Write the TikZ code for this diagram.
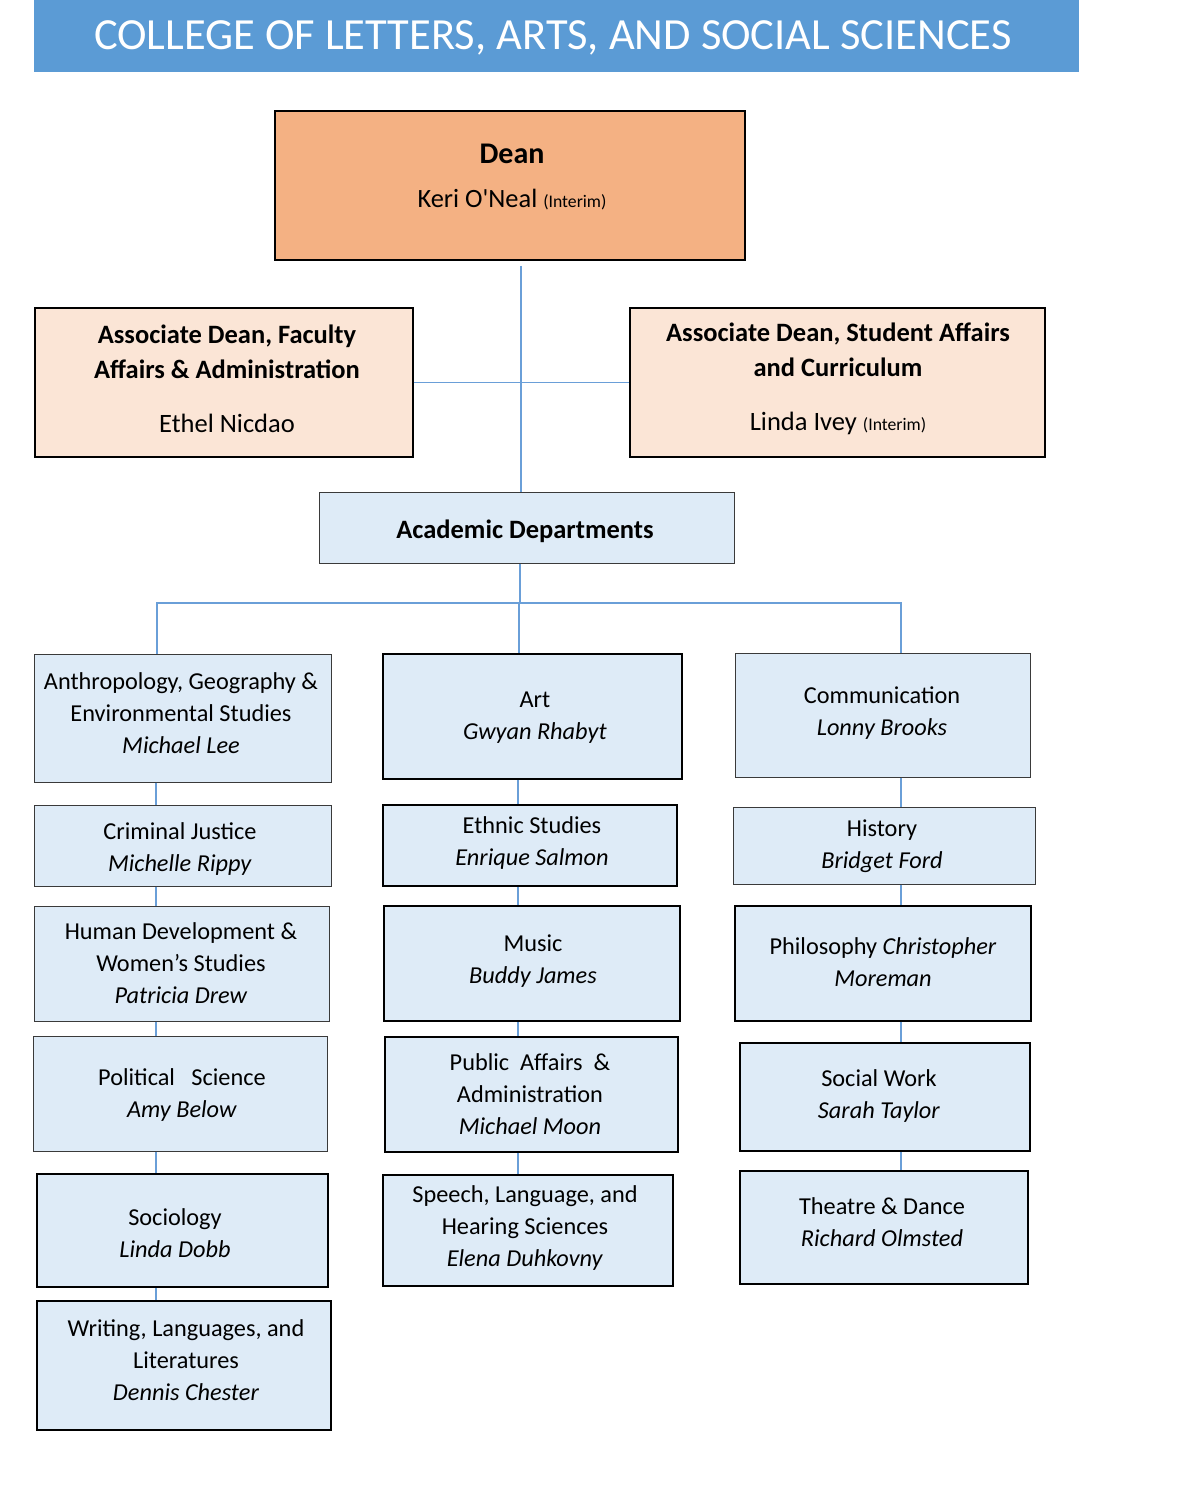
\documentclass[tikz,border=0pt]{standalone}
\usepackage{fontspec}
\setmainfont{Carlito}
\newfontfamily\rawfont{Carlito}[Ligatures=TeXOff]
\definecolor{titleblue}{HTML}{5B9BD5}
\definecolor{deanfill}{HTML}{F4B183}
\definecolor{assocfill}{HTML}{FBE5D6}
\definecolor{deptfill}{HTML}{DEEBF7}
\definecolor{connblue}{HTML}{6A9FD8}
\definecolor{thinborder}{HTML}{3A3A3A}
\begin{document}
\begin{tikzpicture}[x=1pt,y=-1pt,
  boxbase/.style={rectangle, inner sep=0pt},
  thinbox/.style={boxbase, draw=thinborder, line width=1pt},
  medbox/.style={boxbase, draw=black, line width=1.6pt},
  thickbox/.style={boxbase, draw=black, line width=2.6pt},
  dept/.style={fill=deptfill},
  txt/.style={inner sep=0pt, align=center, font=\fontsize{24.3}{32}\selectfont},
  bigtxt/.style={inner sep=0pt, align=center, font=\fontsize{26.5}{35}\selectfont},
  conn/.style={draw=connblue, line width=1.2pt},
  sz/.style 2 args={minimum width=#1, minimum height=#2}
]
\useasboundingbox (0,0) rectangle (1200,1486);
\fill[white] (0,0) rectangle (1200,1486);

% title
\node[boxbase, fill=titleblue, sz={1045pt}{72pt}] (title) at (556.5,36) {};
\node[inner sep=0pt, text=white, font=\fontsize{44.5}{46}\selectfont] (titletxt) at (553,38) {COLLEGE OF LETTERS, ARTS, AND SOCIAL SCIENCES};

% dean
\node[medbox, fill=deanfill, sz={470pt}{149pt}] (dean) at (510,185.5) {};
\node[inner sep=0pt, align=center, font=\fontsize{26.4}{44}\selectfont] (deantxt) at (512,177) {{\fontsize{30}{44}\selectfont\bfseries Dean}\\Keri O{\rawfont'}Neal {\fontsize{17.7}{20}\selectfont(Interim)}};

% associate deans
\node[medbox, line width=1.2pt, fill=assocfill, sz={378pt}{149pt}] (adl) at (224,382.5) {};
\node[bigtxt] (adltxt) at (227,378.5) {\bfseries Associate Dean, Faculty\\\bfseries Affairs \& Administration\\[19pt]Ethel Nicdao};
\node[medbox, line width=1.2pt, fill=assocfill, sz={415pt}{149pt}] (adr) at (837.5,382.5) {};
\node[bigtxt] (adrtxt) at (838,378.5) {\bfseries Associate Dean, Student Affairs\\\bfseries and Curriculum\\[19pt]Linda Ivey {\fontsize{17.7}{20}\selectfont(Interim)}};

% academic departments
\node[thinbox, fill=deptfill, sz={415pt}{71pt}] (acad) at (526.5,527.5) {};
\node[bigtxt] (acadtxt) at (525,531) {\bfseries Academic Departments};

% left column
\node[thinbox, dept, sz={297pt}{128pt}] (L1) at (182.5,718) {};
\node[txt] (L1t) at (181,713) {Anthropology, Geography \&\\Environmental Studies\\\textit{Michael Lee}};
\node[thinbox, dept, sz={297pt}{81pt}] (L2) at (182.5,845.5) {};
\node[txt] (L2t) at (180,849.5) {Criminal Justice\\\textit{Michelle Rippy}};
\node[thinbox, dept, sz={295pt}{115pt}] (L3) at (181.5,963.5) {};
\node[txt] (L3t) at (181,963.5) {Human Development \&\\Women’s Studies\\\textit{Patricia Drew}};
\node[thinbox, dept, sz={294pt}{115pt}] (L4) at (180,1093.5) {};
\node[txt] (L4t) at (182,1095) {Political~~ Science\\\textit{Amy Below}};
\node[thickbox, dept, sz={291pt}{113pt}] (L5) at (182.5,1230.5) {};
\node[txt] (L5t) at (175,1233.5) {Sociology\\\textit{Linda Dobb}};
\node[medbox, dept, sz={294pt}{129pt}] (L6) at (184,1365.5) {};
\node[txt] (L6t) at (186,1360) {Writing, Languages, and\\Literatures\\\textit{Dennis Chester}};

% middle column
\node[thickbox, dept, line width=2.2pt, sz={299pt}{125pt}] (M1) at (532.5,716.5) {};
\node[txt] (M1t) at (535,717.5) {Art\\\textit{Gwyan Rhabyt}};
\node[medbox, dept, sz={294pt}{81pt}] (M2) at (530,845.5) {};
\node[txt] (M2t) at (532,843.5) {Ethnic Studies\\\textit{Enrique Salmon}};
\node[thickbox, dept, line width=2.2pt, sz={296pt}{115pt}] (M3) at (532,963.5) {};
\node[txt] (M3t) at (533,961.5) {Music\\\textit{Buddy James}};
\node[medbox, dept, sz={293pt}{115pt}] (M4) at (531.5,1094.5) {};
\node[txt] (M4t) at (530,1094) {Public~ Affairs~ \&\\Administration\\\textit{Michael Moon}};
\node[medbox, dept, line width=1.3pt, sz={290pt}{111pt}] (M5) at (528,1230.5) {};
\node[txt] (M5t) at (525,1228.5) {Speech, Language, and\\Hearing Sciences\\\textit{Elena Duhkovny}};

% right column
\node[thinbox, dept, sz={295pt}{124pt}] (R1) at (882.5,715) {};
\node[txt] (R1t) at (882,713.5) {Communication\\\textit{Lonny Brooks}};
\node[thinbox, dept, sz={302pt}{77pt}] (R2) at (884,845.5) {};
\node[txt] (R2t) at (882,846) {History\\\textit{Bridget Ford}};
\node[medbox, dept, sz={296pt}{115pt}] (R3) at (883,963.5) {};
\node[txt] (R3t) at (883,962) {Philosophy \textit{Christopher}\\\textit{Moreman}};
\node[thickbox, dept, line width=2.2pt, sz={290pt}{108pt}] (R4) at (885,1097) {};
\node[txt] (R4t) at (879,1096) {Social Work\\\textit{Sarah Taylor}};
\node[thickbox, dept, line width=2.2pt, sz={288pt}{113pt}] (R5) at (884,1227.5) {};
\node[txt] (R5t) at (882,1222) {Theatre \& Dance\\\textit{Richard Olmsted}};

% connector guide coordinates
\coordinate (spine) at (521,0);
\coordinate (spine2) at (520,0);
\coordinate (bus) at (0,603);
\coordinate (colL) at (157,0);
\coordinate (colLb) at (156,0);
\coordinate (colM) at (519,0);
\coordinate (colMb) at (518,0);
\coordinate (colR) at (901,0);

% connectors
\draw[conn] ([yshift=-5pt]dean.south -| spine) -- (acad.north -| spine);
\draw[conn] (adl.east) -- (adr.west);
\draw[conn] (acad.south -| spine2) -- (spine2 |- bus);
\draw[conn] (L1.north -| colL) -- (colL |- bus) -- (colR |- bus) -- (R1.north -| colR);
\draw[conn] (colM |- bus) -- (M1.north -| colM);

\draw[conn] (L1.south -| colLb) -- (L2.north -| colLb);
\draw[conn] (L2.south -| colLb) -- (L3.north -| colLb);
\draw[conn] (L3.south -| colLb) -- (L4.north -| colLb);
\draw[conn] (L4.south -| colLb) -- (L5.north -| colLb);
\draw[conn] (L5.south -| colLb) -- (L6.north -| colLb);

\draw[conn] (M1.south -| colMb) -- (M2.north -| colMb);
\draw[conn] (M2.south -| colMb) -- (M3.north -| colMb);
\draw[conn] (M3.south -| colMb) -- (M4.north -| colMb);
\draw[conn] (M4.south -| colMb) -- (M5.north -| colMb);

\draw[conn] (R1.south -| colR) -- (R2.north -| colR);
\draw[conn] (R2.south -| colR) -- (R3.north -| colR);
\draw[conn] (R3.south -| colR) -- (R4.north -| colR);
\draw[conn] (R4.south -| colR) -- (R5.north -| colR);
\end{tikzpicture}
\end{document}
